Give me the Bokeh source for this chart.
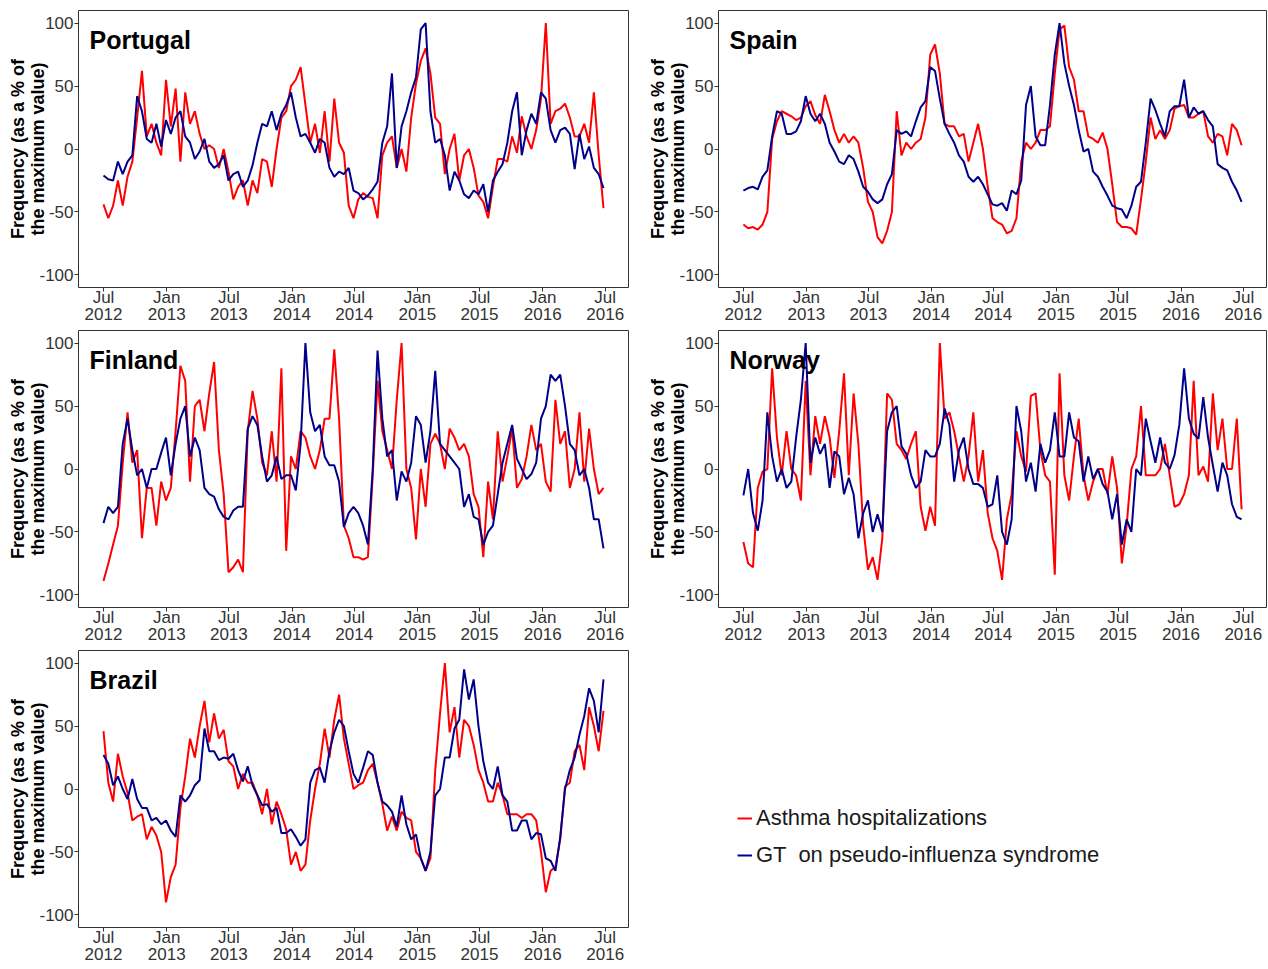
import numpy as np
import pandas as pd
from bokeh.plotting import figure
from bokeh.layouts import row, column
from bokeh.models import (ColumnDataSource, FixedTicker, DatetimeTickFormatter,
                          CustomJSTickFormatter, Range1d, Label, Legend, LegendItem)
from bokeh.embed import file_html
from bokeh.resources import INLINE

# ---------------- data (bi-weekly, Jul 2012 - Jun 2016) ----------------
dates = pd.date_range("2012-07-01", periods=105, freq="14D")

tick_dates = ["2012-07-01", "2013-01-01", "2013-07-01", "2014-01-01", "2014-07-01",
              "2015-01-01", "2015-07-01", "2016-01-01", "2016-07-01"]
y_ticks = [-100, -50, 0, 50, 100]

pt_gt = [-21, -24, -25, -10, -20, -10, -5, 42, 30, 8,
         5, 20, 2, 23, 12, 25, 30, 10, 5, -8,
         -2, 8, -10, -15, -12, -5, -25, -20, -18, -30,
         -25, -13, 5, 20, 18, 30, 15, 28, 35, 45,
         25, 10, 12, 5, -3, 8, 5, -15, -22, -18,
         -20, -15, -33, -35, -40, -37, -32, -26, 5, 18,
         60, -15, 18, 30, 45, 57, 95, 100, 30, 5,
         8, -5, -33, -18, -25, -36, -39, -33, -36, -28,
         -50, -25, -18, -12, 5, 30, 45, -5, 15, 28,
         20, 45, 40, 15, 5, 15, 17, 12, -16, 12,
         -8, 2, -15, -20, -31]
pt_as = [-44, -55, -45, -25, -45, -22, -10, 25, 62, 10,
         20, 5, -5, 55, 18, 48, -10, 45, 20, 30,
         12, 0, 3, 0, -15, 0, -18, -40, -30, -25,
         -45, -25, -35, -8, -10, -30, 0, 25, 30, 50,
         55, 65, 35, 5, 20, -3, 30, -10, 40, 5,
         -3, -45, -55, -40, -35, -38, -39, -55, -5, 5,
         10, -15, 0, -18, 25, 52, 70, 80, 60, 25,
         20, -20, 0, 12, -25, -5, 0, -15, -37, -42,
         -55, -30, -8, -8, -10, 10, -3, 26, 10, 0,
         15, 40, 100, 20, 30, 32, 36, 25, 10, 10,
         20, 5, 45, -5, -47]

es_gt = [-33, -31, -30, -32, -22, -17, 10, 30, 28, 12,
         12, 14, 22, 42, 28, 22, 28, 20, 5, -2,
         -10, -12, -5, -8, -18, -30, -34, -40, -43, -40,
         -28, -20, 15, 12, 14, 10, 22, 33, 38, 65,
         62, 40, 20, 12, 5, -5, -10, -22, -26, -22,
         -28, -36, -44, -45, -43, -49, -33, -36, -25, 35,
         50, 10, 3, 3, 35, 75, 100, 68, 50, 35,
         15, -2, 0, -18, -22, -30, -37, -45, -47, -48,
         -55, -45, -30, -26, 5, 40, 31, 20, 10, 30,
         34, 34, 55, 25, 33, 28, 30, 23, 18, -12,
         -15, -17, -26, -33, -42]
es_as = [-60, -63, -62, -64, -60, -50, 8, 22, 30, 28,
         26, 23, 25, 34, 38, 27, 20, 43, 30, 15,
         5, 12, 5, 10, 5, -15, -42, -50, -70, -75,
         -65, -50, 30, -5, 5, 0, 5, 8, 25, 75,
         83, 60, 20, 18, 18, 10, 12, -10, 5, 20,
         0, -30, -55, -58, -60, -67, -65, -55, -10, 5,
         0, 5, 15, 15, 18, 60, 95, 98, 65, 55,
         30, 30, 10, 8, 5, 13, 0, -28, -58, -62,
         -62, -63, -68, -40, -10, 25, 8, 15, 8, 15,
         32, 34, 35, 25, 25, 28, 30, 10, 5, 12,
         10, -5, 20, 15, 3]

fi_gt = [-43, -30, -35, -30, 20, 40, 15, -5, 0, -15,
         0, 0, 13, 25, -5, 20, 40, 50, 10, 25,
         15, -15, -20, -22, -32, -38, -40, -33, -30, -30,
         32, 42, 35, 10, -10, -5, 10, -8, -5, -5,
         -17, 20, 100, 45, 30, 35, 10, 3, 3, -10,
         -46, -35, -30, -35, -45, -60, 0, 94, 40, 10,
         15, -25, -2, -10, 5, 42, 35, 5, 30, 78,
         20, 15, 10, 5, 0, -30, -20, -38, -40, -60,
         -50, -45, -20, 5, 20, 35, 8, 0, -8, -4,
         5, 40, 50, 75, 70, 75, 50, 20, 15, -5,
         0, -15, -40, -40, -63]
fi_as = [-89, -75, -60, -45, 5, 45, 5, 15, -55, -15,
         -15, -45, -10, -25, -15, 30, 82, 70, -10, 50,
         55, 30, 60, 85, 15, -20, -82, -78, -72, -82,
         30, 62, 40, 5, -5, 30, -10, 80, -65, 10,
         0, 30, 25, 10, 0, 15, 40, 40, 95, 40,
         -45, -55, -70, -70, -72, -70, -5, 70, 30, 15,
         0, 55, 100, 0, -15, -56, 0, -30, 20, 28,
         20, 0, 32, 25, 15, 20, 10, -20, -30, -70,
         -10, -40, 30, -10, 10, 32, -15, -8, 10, 35,
         15, 20, -10, -18, 55, 20, 30, -15, 0, 45,
         -10, 32, 0, -20, -15]

no_gt = [-21, 0, -35, -49, -25, 45, 10, -10, 0, -15,
         -10, 25, 55, 100, 5, 25, 12, 20, -15, 14,
         10, -20, -7, -20, -55, -35, -25, -50, -36, -50,
         30, 45, 50, 18, 12, -5, -15, -10, 15, 10,
         10, 20, 48, 35, -10, 15, 25, 0, -12, -12,
         -15, -30, -28, -5, -50, -60, -40, 50, 30, -10,
         5, -18, 20, 5, 15, 45, 10, 10, 45, 25,
         22, -10, 10, -8, 0, -12, -18, -40, -20, -60,
         -40, -50, 0, -5, 40, 22, 5, 25, 5, 0,
         11, 35, 80, 40, 28, 24, 57, 25, 3, -18,
         5, -5, -28, -38, -40]
no_as = [-58, -75, -78, -15, -2, 0, 80, 25, -5, 30,
         0, -5, -25, 70, -5, 42, 20, 42, 25, -7,
         30, 76, -5, 60, 20, -45, -80, -70, -88, -55,
         60, 55, 20, 15, 8, 20, 30, -30, -49, -30,
         -45, 100, 40, 45, 30, 10, -10, 10, 45, -10,
         15, -35, -55, -65, -88, -40, -20, 30, 10, -2,
         58, 60, 15, -5, -10, -84, 76, -5, -25, 10,
         40, -5, -25, -10, 0, 0, -20, 10, -15, -75,
         -45, 0, 10, 50, -5, -5, -5, 0, 20, -5,
         -30, -28, -20, -5, 70, -5, 2, -10, 60, 15,
         40, 0, 0, 40, -32]

br_gt = [27, 20, 3, 10, 0, -8, 8, -8, -15, -15,
         -25, -23, -28, -25, -33, -38, -5, -10, -5, 3,
         7, 48, 30, 30, 23, 25, 24, 28, 15, 6,
         18, 3, -5, -13, -12, -18, -15, -35, -35, -32,
         -38, -45, -40, 5, 15, 17, 5, 30, 45, 55,
         50, 30, 12, 5, 17, 30, 27, 5, -10, -13,
         -18, -30, -5, -28, -40, -36, -55, -65, -50, -5,
         0, 25, 25, 48, 55, 95, 71, 87, 50, 22,
         5, 0, 18, -5, -10, -33, -33, -25, -25, -40,
         -35, -36, -55, -57, -65, -38, 0, 15, 25, 43,
         58, 80, 70, 45, 87]
br_as = [46, 5, -10, 28, 10, -3, -25, -22, -20, -40,
         -30, -37, -50, -90, -70, -60, -15, 10, 40, 25,
         50, 70, 37, 60, 40, 47, 22, 18, 0, 12,
         5, 5, -5, -20, 0, -28, -10, -20, -32, -60,
         -50, -65, -60, -25, 0, 20, 48, 25, 55, 75,
         40, 20, 0, 3, 5, 15, 20, 5, -12, -33,
         -22, -33, -18, -23, -25, -50, -55, -65, -55, 15,
         60, 100, 45, 65, 25, 55, 50, 35, 15, 5,
         -10, -10, 5, -5, -20, -20, -20, -23, -20, -20,
         -25, -50, -82, -65, -62, -40, 2, 5, 30, 35,
         15, 65, 50, 30, 62]

countries = ["Portugal", "Spain", "Finland", "Norway", "Brazil"]
asthma_series = [pt_as, es_as, fi_as, no_as, br_as]
gt_series = [pt_gt, es_gt, fi_gt, no_gt, br_gt]

y_label = "Frequency (as a % of\nthe maximum value)"
legend_labels = ["Asthma hospitalizations", "GT  on pseudo-influenza syndrome"]
RED = "#FF0000"
BLUE = "#00008B"
INK = "#333333"
FONT = "Liberation Sans"

# ---------------- helpers ----------------
span = dates[-1] - dates[0]
x_start = dates[0] - span * 0.05
x_end = dates[-1] + span * 0.05
tick_ms = [pd.Timestamp(d).value / 1e6 for d in tick_dates]
FH = 277
AXIS_H = 39
ROW_TOPS = [10, 4, 4]


def make_panel(name, asthma, gt, col, row_i):
    fw = 550 if col == 0 else 548
    mr = 12 if col == 0 else 1
    p = figure(frame_width=fw, frame_height=FH, x_axis_type="datetime",
               x_range=Range1d(x_start, x_end), y_range=Range1d(-110, 110),
               output_backend="svg", toolbar_location=None,
               min_border_left=78, min_border_right=mr,
               min_border_top=ROW_TOPS[row_i], min_border_bottom=AXIS_H)
    p.background_fill_color = "white"
    p.border_fill_color = "white"
    p.grid.visible = False
    p.outline_line_color = INK
    p.outline_line_width = 1

    p.xaxis.ticker = FixedTicker(ticks=tick_ms)
    fmt = "%b\n%Y"
    p.xaxis.formatter = DatetimeTickFormatter(
        microseconds=fmt, milliseconds=fmt, seconds=fmt, minsec=fmt, minutes=fmt,
        hourmin=fmt, hours=fmt, days=fmt, months=fmt, years=fmt)
    p.yaxis.ticker = FixedTicker(ticks=y_ticks)
    p.yaxis.formatter = CustomJSTickFormatter(code="return String(tick);")
    for ax in (p.xaxis[0], p.yaxis[0]):
        ax.axis_line_color = None
        ax.major_tick_line_color = INK
        ax.major_tick_in = 0
        ax.major_tick_out = 4
        ax.minor_tick_line_color = None
        ax.major_label_text_font = FONT
        ax.major_label_text_font_size = "17px"
        ax.major_label_text_color = INK
    p.xaxis.major_label_standoff = -4
    p.xaxis.major_label_text_line_height = 0.9
    p.yaxis.major_label_standoff = 1

    p.yaxis.axis_label = y_label
    p.yaxis.axis_label_standoff = -12
    p.yaxis.axis_label_text_font = FONT
    p.yaxis.axis_label_text_font_style = "bold"
    p.yaxis.axis_label_text_font_size = "18px"
    p.yaxis.axis_label_text_color = "black"
    p.yaxis.axis_label_text_line_height = 1.0

    src = ColumnDataSource(dict(date=dates, asthma=asthma, gt=gt))
    p.line("date", "asthma", source=src, line_color=RED, line_width=2)
    p.line("date", "gt", source=src, line_color=BLUE, line_width=2)

    p.add_layout(Label(x=11, y=FH - 29, x_units="screen", y_units="screen",
                       text=name, text_font=FONT, text_font_style="bold",
                       text_font_size="25px", text_color="black",
                       text_baseline="alphabetic", text_align="left"))
    return p


panels = [make_panel(n, a, g, i % 2, i // 2)
          for i, (n, a, g) in enumerate(zip(countries, asthma_series, gt_series))]

# legend slot
leg = figure(width=627, height=ROW_TOPS[2] + FH + AXIS_H, output_backend="svg",
             toolbar_location=None, x_axis_type=None, y_axis_type=None, min_border=0,
             x_range=Range1d(0, 1), y_range=Range1d(0, 1),
             outline_line_color=None)
leg.grid.visible = False
empty = ColumnDataSource(dict(x=[np.nan], y=[np.nan]))
r1 = leg.line("x", "y", source=empty, line_color=RED, line_width=2)
r2 = leg.line("x", "y", source=empty, line_color=BLUE, line_width=2)
legend = Legend(items=[LegendItem(label=legend_labels[0], renderers=[r1]),
                       LegendItem(label=legend_labels[1], renderers=[r2])],
                location=(97, 59), glyph_width=15, glyph_height=22,
                label_height=22, label_standoff=4, spacing=11, padding=0,
                margin=0, border_line_color=None, background_fill_alpha=0,
                label_text_font=FONT, label_text_font_size="22px",
                label_text_color="#1a1a1a")
leg.add_layout(legend)

layout = column(row(panels[0], panels[1]), row(panels[2], panels[3]),
                row(panels[4], leg))

open("out.html", "w").write(file_html(layout, INLINE))
